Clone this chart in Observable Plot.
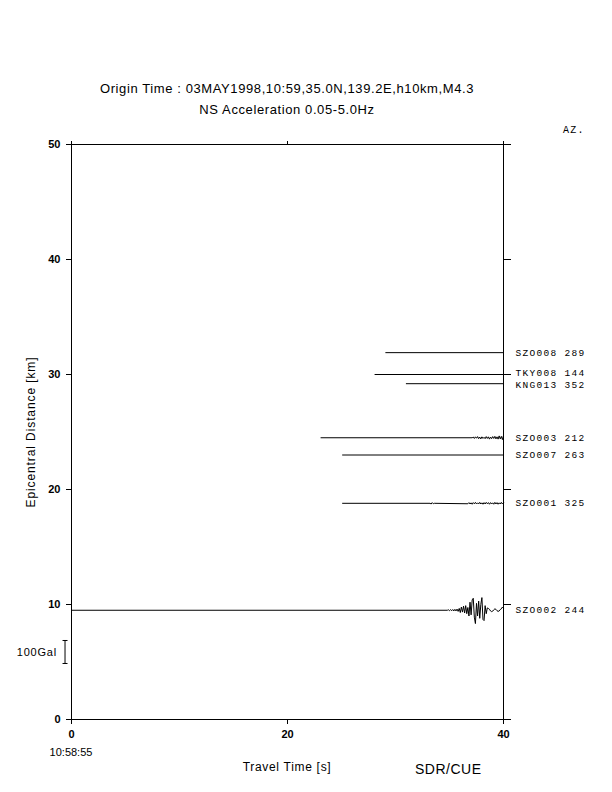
<!DOCTYPE html>
<html><head><meta charset="utf-8">
<script src="https://cdn.jsdelivr.net/npm/d3@7"></script>
<script src="https://cdn.jsdelivr.net/npm/@observablehq/plot@0.6"></script>
<style>
body{margin:0;background:#fff;}
#wrap{position:relative;width:612px;height:792px;font-family:"Liberation Sans",Arial,sans-serif;color:#000;}
.t{position:absolute;white-space:nowrap;line-height:1;}
.c{transform:translateX(-50%);}
.mono{font-family:"Liberation Mono","DejaVu Sans Mono",monospace;}
g[font-family*="Mono"]{letter-spacing:1.3px;}
</style></head><body><div id="wrap"></div>
<script>
// ---- data ----
const titleText = "Origin Time : 03MAY1998,10:59,35.0N,139.2E,h10km,M4.3";
const subtitleText = "NS Acceleration 0.05-5.0Hz";
const stations = ["SZO008","TKY008","KNG013","SZO003","SZO007","SZO001","SZO002"];
const azimuths = [289,144,352,212,263,325,244];
const distances = [31.9,30.0,29.2,24.5,23.0,18.8,9.5];      // km
const traceStarts = [29.1,28.1,31.0,23.1,25.1,25.1,0.0];    // s
const traceEnd = 40;
const xTicks = [0,20,40];
const yTicks = [0,10,20,30,40,50];
const sampleDt = 0.1; // s
// waveform samples in Gal
const szo002WaveStart = 34.8;
const szo002Wave = [0,2,-2,3,-2,3,-3,4,-3,5,-5,8,-10,14,-8,18,-12,20,-15,12,-25,35,-20,45,52,-30,-58,30,-25,40,-35,25,55,-40,-45,20,-15,10,8,4,-3,-6,-4,2,6,4,-2,-5,-3,3,6,14,8];
const szo003WaveStart = 37.1;
const szo003Wave = [0,3,-3,4,-2,5,-4,3,-5,4,-3,2,-4,5,-3,4,-6,3,-4,5,-3,6,-5,4,-6,8,-5,6,-8,10];
const szo001BlipStart = 33.2;
const szo001Blip = [0,-3,3,-2,0];
const szo001WaveStart = 36.7;
const szo001Wave = [-2,3,-3,2,-4,3,-2,4,-3,2,-3,4,-3,2,-4,3,-3,4,-2,3,-4,3,-3,2,-4,4,-3,3,-4,2,-3,4,-3,2];
const galPerScale = 100;   // scale bar value
const kmPerScale = 2;      // scale bar length in km on the y scale
const scaleBarT = -0.6;    // s (just left of frame)
const scaleBarCenter = 5.87; // km
const serifHalf = 0.23;    // s
// small vertical nudges (px) for the two crowded station labels
const labelNudge = {TKY008: -1.2, KNG013: 1.2};

// ---- build traces ----
const segs = {
  SZO002: [[szo002WaveStart, szo002Wave]],
  SZO003: [[szo003WaveStart, szo003Wave]],
  SZO001: [[szo001BlipStart, szo001Blip],[szo001WaveStart, szo001Wave]]
};
const kmPerGal = kmPerScale / galPerScale;
const tracePts = [];
stations.forEach((s,i) => {
  const d = distances[i];
  tracePts.push({s, t: traceStarts[i], y: d});
  (segs[s] || []).forEach(([t0, vals]) => {
    vals.forEach((a,k) => tracePts.push({s, t: +(t0 + k*sampleDt).toFixed(3), y: d + a*kmPerGal}));
  });
  const last = tracePts[tracePts.length-1];
  if (last.t < traceEnd) tracePts.push({s, t: traceEnd, y: d});
});
const labels = stations.map((s,i) => ({s, label: `${s} ${azimuths[i]}`, y: distances[i]}));
const y1 = scaleBarCenter - kmPerScale/2, y2 = scaleBarCenter + kmPerScale/2;
const barLinks = [
  {x1: scaleBarT, x2: scaleBarT, y1, y2},
  {x1: scaleBarT - serifHalf, x2: scaleBarT + serifHalf, y1: y1, y2: y1},
  {x1: scaleBarT - serifHalf, x2: scaleBarT + serifHalf, y1: y2, y2: y2}
];

const font = '"Liberation Sans", Arial, sans-serif';
const labelMarks = labels.map(l => Plot.text([l], {frameAnchor: "right", y: "y", text: "label", dx: 12, dy: labelNudge[l.s] || 0,
  textAnchor: "start", fontFamily: '"Liberation Mono", monospace', fontSize: 9.5}));
const chart = Plot.plot({
  width: 612, height: 792,
  marginLeft: 71, marginRight: 109, marginTop: 144, marginBottom: 73,
  x: {type: "linear", domain: [0, 40]},
  y: {type: "linear", domain: [0, 50]},
  style: {fontFamily: font, fontSize: "11px", background: "white", color: "black"},
  marks: [
    Plot.frame({stroke: "black", strokeWidth: 1}),
    Plot.axisX({anchor: "bottom", ticks: xTicks, tickSize: 5, tickPadding: 6, label: null, fontSize: 11, fontWeight: "bold"}),
    Plot.axisX({anchor: "top", ticks: xTicks, tickSize: 4, tickFormat: () => "", label: null}),
    Plot.axisY({anchor: "left", ticks: yTicks, tickSize: 5, tickPadding: 6, label: null, fontSize: 11, fontWeight: "bold"}),
    Plot.axisY({anchor: "right", ticks: yTicks, tickSize: 7, tickFormat: () => "", label: null}),
    Plot.line(tracePts, {x: "t", y: "y", z: "s", stroke: "black", strokeWidth: 1, curve: "linear"}),
    ...labelMarks,
    Plot.link(barLinks, {x1: "x1", x2: "x2", y1: "y1", y2: "y2", stroke: "black", strokeWidth: 1}),
    Plot.text([{t: scaleBarT, y: scaleBarCenter}], {x: "t", y: "y", text: () => `${galPerScale}Gal`, dx: -8, textAnchor: "end", fontSize: 11, fontFamily: '"Liberation Sans", Arial, sans-serif '})
  ]
});
const wrap = document.getElementById("wrap");
wrap.appendChild(chart);
chart.querySelectorAll('g[font-family$=" "]').forEach(g => g.style.letterSpacing = "0.8px");

function addText(txt, cls, style) {
  const d = document.createElement("div");
  d.className = "t " + cls;
  d.textContent = txt;
  Object.assign(d.style, style);
  wrap.appendChild(d);
  return d;
}
addText(titleText, "c", {left: "287px", top: "82px", fontSize: "13px", letterSpacing: "0.6px"});
addText(subtitleText, "c", {left: "287px", top: "103px", fontSize: "13px", letterSpacing: "0.6px"});
addText("AZ.", "mono", {left: "563px", top: "126px", fontSize: "10px", letterSpacing: "1.3px"});
addText("10:58:55", "c", {left: "71px", top: "747px", fontSize: "11px"});
addText("Travel Time [s]", "c", {left: "287px", top: "761px", fontSize: "12px", letterSpacing: "0.7px"});
addText("SDR/CUE", "", {left: "415px", top: "762px", fontSize: "14px", letterSpacing: "0.5px"});
addText("Epicentral Distance [km]", "", {left: "31px", top: "432px", fontSize: "12px", letterSpacing: "0.9px", transform: "translate(-50%,-50%) rotate(-90deg)"});
</script></body></html>
